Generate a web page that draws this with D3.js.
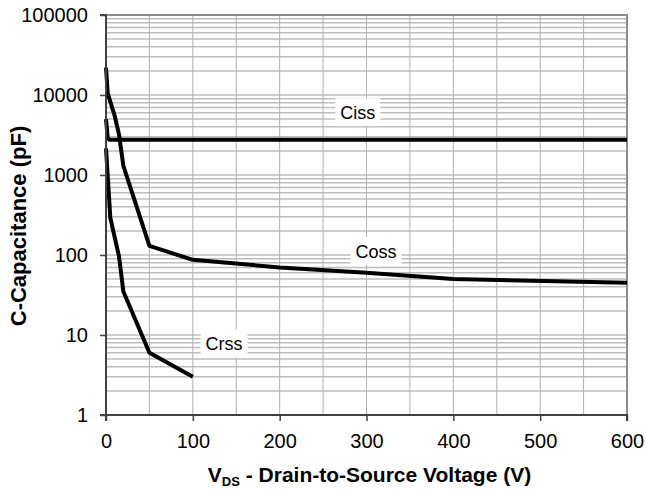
<!DOCTYPE html>
<html>
<head>
<meta charset="utf-8">
<script src="https://cdn.jsdelivr.net/npm/d3@7"></script>
<style>
    html, body { margin: 0; padding: 0; background: #fff; }
    svg { display: block; font-family: "Liberation Sans", Arial, sans-serif; }
</style>
</head>
<body>
<svg id="chart" width="646" height="489"></svg>
<script>
// Capacitance vs drain-to-source voltage
const cissV = [0, 2, 4, 600];
const cissC = [5000, 2900, 2750, 2750];

const cossV = [0, 2, 10, 15, 20, 50, 100, 200, 300, 400, 600];
const cossC = [22000, 10500, 5500, 3200, 1300, 130, 87, 70, 60, 50, 45];

const crssV = [0, 5, 15, 20, 50, 100];
const crssC = [2150, 290, 96, 35, 6, 3];

// Curve labels, anchored in data space
const labelNames = ['Ciss', 'Coss', 'Crss'];
const labelV = [290, 311, 136];
const labelC = [6100, 112, 7.8];

const xTicks = [0, 100, 200, 300, 400, 500, 600];
const yTicks = [1, 10, 100, 1000, 10000, 100000];

const width = 646, height = 489;
const margin = { top: 15, right: 19, bottom: 74, left: 106 };

const svg = d3.select('#chart');

const x = d3.scaleLinear()
    .domain([0, 600])
    .range([margin.left, width - margin.right]);

const y = d3.scaleLog()
    .domain([1, 100000])
    .range([height - margin.bottom, margin.top]);

// Grid
const grid = svg.append('g');

grid.selectAll('line.h')
    .data(y.ticks())
    .enter()
    .append('line')
    .attr('class', 'h')
    .attr('x1', x(0)).attr('x2', x(600))
    .attr('y1', d => y(d)).attr('y2', d => y(d))
    .attr('stroke', '#bdbdbd')
    .attr('stroke-width', 1.5);

grid.selectAll('line.v')
    .data(d3.range(50, 601, 50))
    .enter()
    .append('line')
    .attr('class', 'v')
    .attr('x1', d => x(d)).attr('x2', d => x(d))
    .attr('y1', y(1)).attr('y2', y(100000))
    .attr('stroke', '#b0b0b0')
    .attr('stroke-width', 1);

// Plot frame (top & right)
grid.append('path')
    .attr('d', `M${x(0)},${y(100000)}H${x(600)}V${y(1)}`)
    .attr('fill', 'none')
    .attr('stroke', '#8c8c8c')
    .attr('stroke-width', 2);

// Curves
const line = d3.line()
    .x(d => x(d[0]))
    .y(d => y(d[1]));

const series = [
    d3.zip(cissV, cissC),
    d3.zip(cossV, cossC),
    d3.zip(crssV, crssC)
];

svg.append('g')
    .selectAll('path')
    .data(series)
    .enter()
    .append('path')
    .attr('d', line)
    .attr('fill', 'none')
    .attr('stroke', '#000')
    .attr('stroke-width', 4)
    .attr('stroke-linejoin', 'round');

// Labels on white boxes
const labels = svg.append('g')
    .selectAll('g')
    .data(labelNames.map((n, i) => ({ name: n, v: labelV[i], c: labelC[i] })))
    .enter()
    .append('g')
    .attr('transform', d => `translate(${x(d.v)},${y(d.c)})`);

labels.append('rect').attr('fill', '#fff');

labels.append('text')
    .attr('text-anchor', 'middle')
    .attr('dy', '0.36em')
    .style('font-size', '18px')
    .attr('fill', '#000')
    .text(d => d.name);

labels.each(function () {
    const g = d3.select(this);
    const bb = g.select('text').node().getBBox();
    g.select('rect')
        .attr('x', bb.x - 5)
        .attr('y', -14)
        .attr('width', bb.width + 10)
        .attr('height', 28);
});

// Axes
const xAxis = svg.append('g')
    .attr('transform', `translate(0,${y(1)})`)
    .call(d3.axisBottom(x).tickValues(xTicks).tickSize(6).tickPadding(13));

const yAxis = svg.append('g')
    .attr('transform', `translate(${x(0)},0)`)
    .call(d3.axisLeft(y).tickValues(yTicks).tickFormat(d3.format('d')).tickSize(6).tickPadding(12));

[xAxis, yAxis].forEach(a => {
    a.select('.domain').attr('stroke', '#404040').attr('stroke-width', 2);
    a.selectAll('.tick line').attr('stroke', '#404040').attr('stroke-width', 1.5);
    a.selectAll('.tick text')
        .attr('fill', '#000')
        .style('font-size', '20px')
        .style('font-family', '"Liberation Sans", Arial, sans-serif');
});
xAxis.select('.domain').attr('d', `M${x(0)},6V0H${x(600)}V6`);
yAxis.select('.domain').attr('d', `M-6,${y(100000)}H0V${y(1)}H-6`);

// Axis titles
const xTitle = svg.append('text')
    .attr('x', (x(0) + x(600)) / 2 + 3)
    .attr('y', 481.5)
    .attr('text-anchor', 'middle')
    .style('font-size', '21px')
    .style('font-weight', 'bold');
xTitle.append('tspan').text('V');
xTitle.append('tspan')
    .attr('dy', 4)
    .style('font-size', '13px')
    .text('DS');
xTitle.append('tspan')
    .attr('dy', -4)
    .text(' - Drain-to-Source Voltage (V)');

svg.append('text')
    .attr('transform', `translate(26,226) rotate(-90)`)
    .attr('text-anchor', 'middle')
    .style('font-size', '22px')
    .style('font-weight', 'bold')
    .text('C-Capacitance (pF)');
</script>
</body>
</html>
